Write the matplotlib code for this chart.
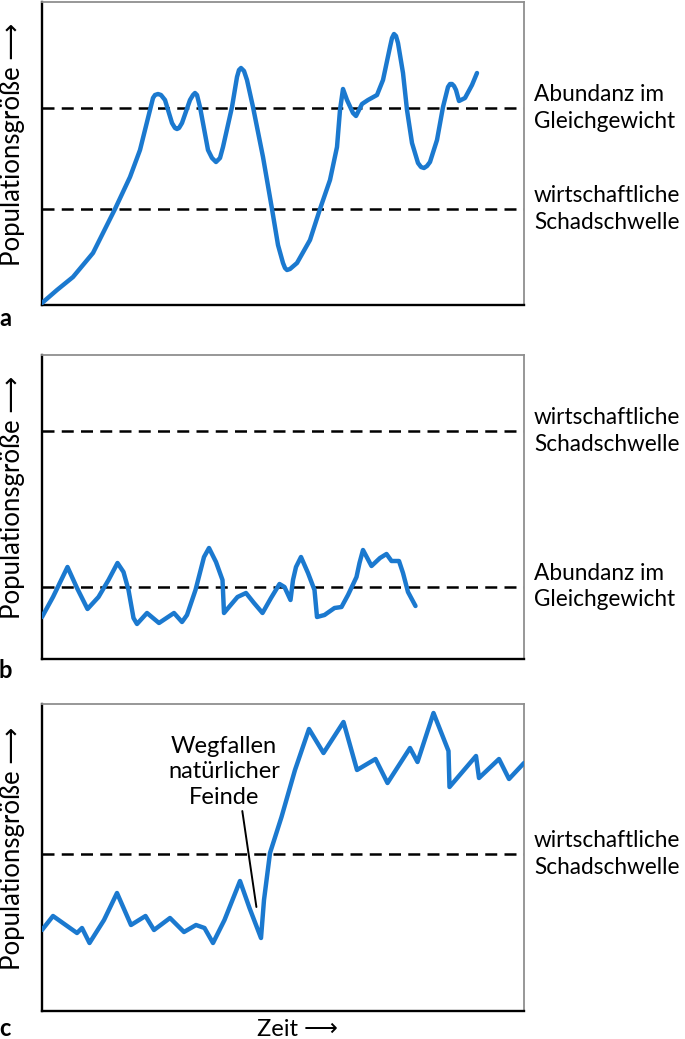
import matplotlib
matplotlib.use("Agg")
import matplotlib.pyplot as plt
from matplotlib.transforms import blended_transform_factory

plt.rcParams['font.family'] = ['Lato', 'DejaVu Sans']

# ---------------- data (time units, population units) ----------------
# Panel a
a_time = [0, 15, 31, 51, 73, 88, 98, 108, 111, 113, 116, 119, 123, 130, 133, 135,
          137, 140, 148, 151, 153, 155, 158, 166, 170, 174, 178, 181, 190, 195,
          197, 199, 202, 205, 211, 221, 230, 236, 241, 243, 245, 248, 255,
          268, 278, 288, 295, 298, 301, 305, 311, 314, 320, 326, 335, 341, 348,
          350, 352, 354, 356, 361, 365, 370, 376, 379, 382, 385, 388, 395, 401,
          406, 408, 410, 412, 414, 417, 423, 430, 435]
a_pop = [2, 15, 28, 52, 96, 128, 155, 195, 207, 210, 211, 210, 205, 182, 177, 176,
         177, 182, 205, 210, 212, 210, 198, 155, 147, 143, 147, 158, 198, 228,
         235, 237, 234, 225, 198, 148, 96, 60, 42, 37, 35, 36, 42,
         65, 96, 125, 158, 195, 216, 205, 192, 189, 201, 205, 210, 225, 258,
         267, 271, 269, 262, 232, 195, 162, 142, 138, 137, 139, 143, 165, 198,
         218, 221, 221, 219, 215, 204, 207, 220, 232]
a_equilibrium = 197
a_threshold = 96

# Panel b
b_time = [0, 11, 25.5, 35, 45.5, 56.5, 66.5, 75.5, 81.5, 86.5, 91.5, 95, 105, 117,
          132, 140, 145, 153.5, 162, 167, 174, 180.5, 182, 187, 195.5, 204, 212,
          220.5, 229, 237.5, 242.5, 248.5, 251, 254, 259, 266, 272.5, 275, 282.5,
          292.5, 299.5, 306, 314.5, 317.5, 321, 329.5, 338, 344.5, 349.5, 357,
          361, 366, 373.5]
b_pop = [42, 62, 92, 71, 50, 62, 79, 96, 87, 69, 41, 35, 46, 36,
         46, 37, 44, 69, 102, 111, 97, 79, 46, 52, 62, 66, 56,
         46, 61, 75, 72, 59, 79, 92, 102, 86, 69, 42, 44,
         51, 52, 64, 82, 96, 109, 93, 101, 105, 98, 98,
         86, 67, 53]
b_threshold = 228
b_equilibrium = 72.5

# Panel c
c_time = [0, 11, 35, 40, 47.5, 62, 75, 89, 103.5, 112, 128, 142, 154, 162.5, 171,
          182.5, 198, 207.5, 219, 222, 228, 239.5, 253, 267, 281.5, 301.5, 315,
          333.5, 345.5, 368, 375.5, 391.5, 406.5, 407.5, 434, 437, 457, 467, 482]
c_pop = [81, 95, 78, 83, 68, 91, 118, 86, 95, 81, 93, 79, 86, 83, 68,
         91, 130, 103, 73, 111, 158, 194, 241, 282, 258, 289, 241,
         252, 228, 263, 249, 298, 260, 224, 255, 233, 252, 232, 248]
c_threshold = 157
c_event_time = 214.4   # Wegfallen natürlicher Feinde
c_event_pop = 104

# ---------------- figure ----------------
W, H = 685, 1039
fig = plt.figure(figsize=(W / 100, H / 100), dpi=100)

def px_axes(left, top, right, bottom):
    return fig.add_axes([left / W, 1 - bottom / H, (right - left) / W, (bottom - top) / H])

ax_a = px_axes(42, 2, 524, 305)
ax_b = px_axes(42, 355, 524, 659)
ax_c = px_axes(42, 704, 524, 1011)

BLUE = '#1b79cf'
FS = 17
FS_SIDE = 16.3
ylims = {ax_a: 303, ax_b: 304, ax_c: 307}

for ax in (ax_a, ax_b, ax_c):
    ax.set_xlim(0, 482)
    ax.set_ylim(0, ylims[ax])
    ax.set_xticks([])
    ax.set_yticks([])
    for s in ('left', 'bottom'):
        ax.spines[s].set_color('black')
        ax.spines[s].set_linewidth(1.7)
    for s in ('top', 'right'):
        ax.spines[s].set_color('#8f8f8f')
        ax.spines[s].set_linewidth(1.3)
    ax.text(-0.062, 0.53, 'Populationsgröße \u27f6', rotation=90, transform=ax.transAxes,
            ha='center', va='center', fontsize=18.5, family=['Lato', 'DejaVu Sans'])

def hline(ax, y):
    ax.axhline(y, color='black', lw=1.8, dashes=(4.8, 2.9), zorder=1)

def side_label(ax, y, text):
    tr = blended_transform_factory(ax.transAxes, ax.transData)
    ax.text(1 + 10 / 482, y, text, transform=tr, ha='left', va='center',
            fontsize=FS_SIDE, linespacing=1.32, clip_on=False)

LW = 3.2
# Panel a
ax_a.plot(a_time, a_pop, color=BLUE, lw=LW, solid_joinstyle='round', solid_capstyle='round', zorder=3)
hline(ax_a, a_equilibrium)
hline(ax_a, a_threshold)
side_label(ax_a, a_equilibrium, 'Abundanz im\nGleichgewicht')
side_label(ax_a, a_threshold, 'wirtschaftliche\nSchadschwelle')

# Panel b
ax_b.plot(b_time, b_pop, color=BLUE, lw=LW, solid_joinstyle='round', solid_capstyle='round', zorder=3)
hline(ax_b, b_threshold)
hline(ax_b, b_equilibrium)
side_label(ax_b, b_threshold, 'wirtschaftliche\nSchadschwelle')
side_label(ax_b, b_equilibrium, 'Abundanz im\nGleichgewicht')

# Panel c
ax_c.plot(c_time, c_pop, color=BLUE, lw=LW, solid_joinstyle='round', solid_capstyle='round', zorder=3)
hline(ax_c, c_threshold)
side_label(ax_c, c_threshold, 'wirtschaftliche\nSchadschwelle')
ax_c.annotate('Wegfallen\nnatürlicher\nFeinde', xy=(c_event_time, c_event_pop),
              xytext=(182, 239), ha='center', va='center', fontsize=FS, linespacing=1.28,
              arrowprops=dict(arrowstyle='-', color='black', lw=1.4, shrinkA=0, shrinkB=0,
                              relpos=(0.66, 0.0)))

# Panel letters
fig.text(5 / W, 1 - 318 / H, 'a', fontsize=FS, fontweight='bold', ha='center', va='center')
fig.text(5 / W, 1 - 670 / H, 'b', fontsize=FS, fontweight='bold', ha='center', va='center')
fig.text(5 / W, 1 - 1028 / H, 'c', fontsize=FS, fontweight='bold', ha='center', va='center')

# x label
fig.text(257 / W, 1 - 1030 / H, 'Zeit \u27f6', fontsize=FS, ha='left', va='center',
         family=['Lato', 'DejaVu Sans'])

fig.savefig('out.png', dpi=100)
